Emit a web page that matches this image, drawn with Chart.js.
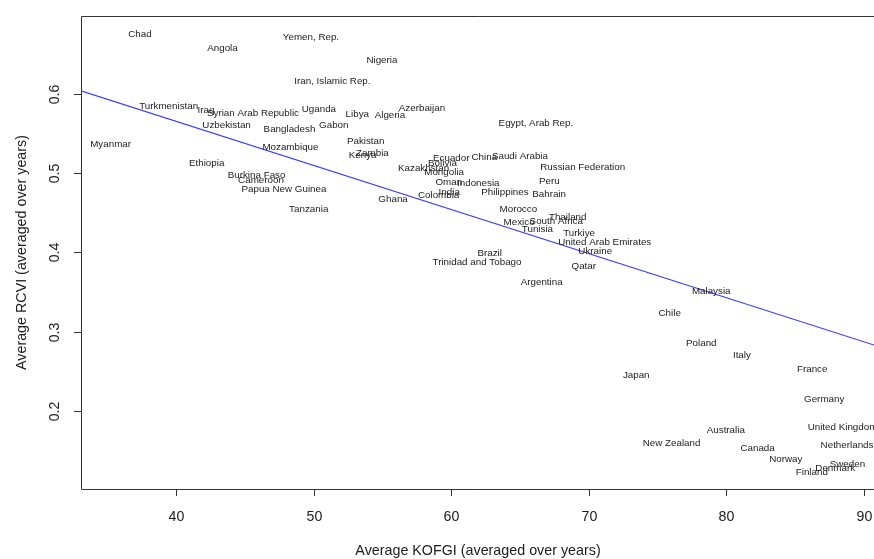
<!DOCTYPE html>
<html>
<head>
<meta charset="utf-8">
<script src="https://cdn.jsdelivr.net/npm/chart.js@4.4.1/dist/chart.umd.min.js"></script>
<style>
  html, body { margin: 0; padding: 0; background: #ffffff; }
  #wrap { width: 874px; height: 559px; position: relative; }
</style>
</head>
<body>
<div id="wrap"><canvas id="chart" width="874" height="559"></canvas></div>
<script>
// Country averages: globalisation index (KOFGI) vs. climate vulnerability (RCVI)
const countries = [
  "Chad", "Angola", "Yemen, Rep.", "Nigeria", "Iran, Islamic Rep.",
  "Turkmenistan", "Iraq", "Syrian Arab Republic", "Uganda", "Libya",
  "Algeria", "Azerbaijan", "Uzbekistan", "Bangladesh", "Gabon",
  "Egypt, Arab Rep.", "Myanmar", "Pakistan", "Kenya", "Zambia",
  "Mozambique", "Ethiopia", "Burkina Faso", "Cameroon", "Papua New Guinea",
  "Tanzania", "Ecuador", "China", "Saudi Arabia", "Bolivia",
  "Kazakhstan", "Mongolia", "Russian Federation", "Oman", "Indonesia",
  "Peru", "India", "Colombia", "Philippines", "Bahrain",
  "Ghana", "Morocco", "Thailand", "Mexico", "South Africa",
  "Tunisia", "Turkiye", "United Arab Emirates", "Ukraine", "Brazil",
  "Trinidad and Tobago", "Qatar", "Argentina", "Malaysia", "Chile",
  "Poland", "Italy", "Japan", "France", "Germany",
  "United Kingdom", "Australia", "New Zealand", "Netherlands", "Canada",
  "Norway", "Sweden", "Denmark", "Finland"
];

const kofgi = [
  37.38, 43.38, 49.81, 54.97, 51.37,
  39.47, 42.18, 45.60, 50.39, 53.18,
  55.55, 57.88, 43.68, 48.25, 51.47,
  66.16, 35.25, 53.79, 53.57, 54.28,
  48.32, 42.23, 45.86, 46.18, 47.85,
  49.65, 60.01, 62.41, 65.00, 59.37,
  58.00, 59.49, 69.56, 59.83, 61.97,
  67.13, 59.86, 59.09, 63.91, 67.12,
  55.78, 64.88, 68.47, 64.94, 67.64,
  66.27, 69.30, 71.16, 70.47, 62.80,
  61.88, 69.64, 66.58, 78.90, 75.88,
  78.18, 81.13, 73.45, 86.24, 87.11,
  88.44, 79.96, 76.02, 88.77, 82.27,
  84.32, 88.80, 87.91, 86.21
];

const rcvi = [
  0.676, 0.658, 0.672, 0.642, 0.616,
  0.585, 0.579, 0.576, 0.581, 0.574,
  0.573, 0.582, 0.560, 0.556, 0.560,
  0.563, 0.537, 0.540, 0.523, 0.525,
  0.533, 0.513, 0.498, 0.491, 0.480,
  0.454, 0.519, 0.520, 0.522, 0.513,
  0.506, 0.501, 0.507, 0.489, 0.487,
  0.490, 0.476, 0.472, 0.476, 0.474,
  0.467, 0.454, 0.444, 0.438, 0.439,
  0.429, 0.424, 0.413, 0.401, 0.399,
  0.388, 0.383, 0.362, 0.351, 0.323,
  0.285, 0.270, 0.245, 0.252, 0.215,
  0.179, 0.175, 0.159, 0.157, 0.153,
  0.139, 0.132, 0.127, 0.123
];

// Least-squares fit line, end points at the plot edges
const fitX = [33.1, 90.73];
const fitY = [0.604, 0.283];

// Axis ticks
const xTicks = [40, 50, 60, 70, 80, 90];
const yTicks = [0.2, 0.3, 0.4, 0.5, 0.6];
const xTickLabels = ["40", "50", "60", "70", "80", "90"];
const yTickLabels = ["0.2", "0.3", "0.4", "0.5", "0.6"];

const xTitle = "Average KOFGI (averaged over years)";
const yTitle = "Average RCVI (averaged over years)";

const FONT = "'Liberation Sans', Arial, Helvetica, sans-serif";
const INK = "#1c1c1c";

const pointData = countries.map((c, i) => ({ x: kofgi[i], y: rcvi[i], label: c }));
const fitData = fitX.map((x, i) => ({ x: x, y: fitY[i] }));

// Draws the frame, axes, titles and country names (base-graphics look)
const basePlot = {
  id: 'basePlot',
  afterDatasetsDraw(chart) {
    const ctx = chart.ctx;
    const a = chart.chartArea;
    const xs = chart.scales.x;
    const ys = chart.scales.y;

    // country names centred on their points
    const meta = chart.getDatasetMeta(0);
    ctx.save();
    ctx.font = "9.8px " + FONT;
    ctx.fillStyle = INK;
    ctx.textAlign = "center";
    ctx.textBaseline = "middle";
    meta.data.forEach((el, i) => {
      ctx.fillText(countries[i], el.x, el.y);
    });
    ctx.restore();

    ctx.save();
    ctx.strokeStyle = "#333333";
    ctx.lineWidth = 1;
    // frame: left, top, bottom
    ctx.beginPath();
    ctx.moveTo(a.right + 2, Math.round(a.top) + 0.5);
    ctx.lineTo(Math.round(a.left) + 0.5, Math.round(a.top) + 0.5);
    ctx.lineTo(Math.round(a.left) + 0.5, Math.round(a.bottom) + 0.5);
    ctx.lineTo(a.right + 2, Math.round(a.bottom) + 0.5);
    ctx.stroke();

    // x ticks
    ctx.font = "14.2px " + FONT;
    ctx.fillStyle = INK;
    ctx.textAlign = "center";
    ctx.textBaseline = "middle";
    xTicks.forEach((v, i) => {
      const px = Math.round(xs.getPixelForValue(v)) + 0.5;
      ctx.beginPath();
      ctx.moveTo(px, a.bottom);
      ctx.lineTo(px, a.bottom + 7);
      ctx.stroke();
      ctx.fillText(xTickLabels[i], px, 517);
    });

    // y ticks, labels written vertically
    yTicks.forEach((v, i) => {
      const py = Math.round(ys.getPixelForValue(v)) + 0.5;
      ctx.beginPath();
      ctx.moveTo(a.left, py);
      ctx.lineTo(a.left - 7, py);
      ctx.stroke();
      ctx.save();
      ctx.translate(55, py);
      ctx.rotate(-Math.PI / 2);
      ctx.fillText(yTickLabels[i], 0, 0);
      ctx.restore();
    });

    // axis titles
    ctx.font = "14.3px " + FONT;
    ctx.fillText(xTitle, (a.left + 875) / 2, 551);
    ctx.save();
    ctx.translate(22, (a.top + a.bottom) / 2);
    ctx.rotate(-Math.PI / 2);
    ctx.fillText(yTitle, 0, 0);
    ctx.restore();
    ctx.restore();
  }
};

new Chart(document.getElementById('chart'), {
  type: 'scatter',
  data: {
    datasets: [
      {
        label: 'countries',
        data: pointData,
        pointRadius: 0,
        pointHoverRadius: 0,
        showLine: false
      },
      {
        label: 'fit',
        type: 'line',
        data: fitData,
        borderColor: '#3c3cff',
        borderWidth: 1.1,
        pointRadius: 0,
        fill: false,
        tension: 0
      }
    ]
  },
  options: {
    responsive: false,
    animation: false,
    events: [],
    layout: { padding: { left: 81, top: 16, right: 0, bottom: 70 } },
    plugins: {
      legend: { display: false },
      tooltip: { enabled: false }
    },
    scales: {
      x: { type: 'linear', display: false, min: 33.1, max: 90.73 },
      y: { type: 'linear', display: false, min: 0.1013, max: 0.6985 }
    }
  },
  plugins: [basePlot]
});
</script>
</body>
</html>
